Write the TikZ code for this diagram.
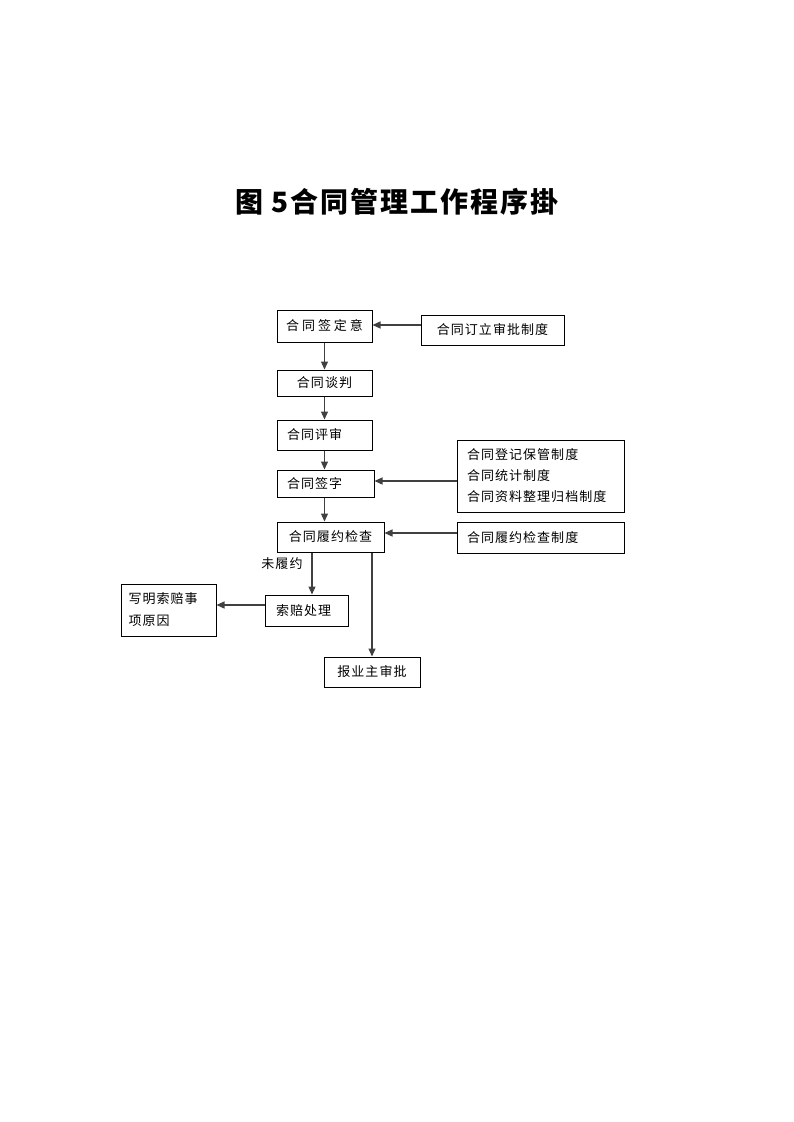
\documentclass[tikz,border=0pt]{standalone}
\usepackage{fontspec}
\newfontfamily\cjk{Noto Sans CJK SC}
\newfontfamily\cjkls{Noto Sans CJK SC}[LetterSpace=8]
\usetikzlibrary{arrows.meta}
\begin{document}
\begin{tikzpicture}[x=1pt,y=-1pt,
  box/.style={draw=black, line width=1pt, inner sep=0pt, font=\cjkls\fontsize{13}{21}\selectfont},
  arr/.style={draw=black!75, line width=1.2pt, -{Triangle[length=8pt,width=7pt]}}]
\useasboundingbox (0,0) rectangle (793,1122);
\node[font=\cjk\bfseries\fontsize{28}{30}\selectfont] (title) at (397,202) {图\hspace{8pt}5\hspace{2pt}合\hspace{2pt}同\hspace{2pt}管\hspace{2pt}理\hspace{2pt}工\hspace{2pt}作\hspace{2pt}程\hspace{2pt}序\hspace{2pt}掛};

\node[box, font=\cjk\fontsize{13}{21}\selectfont, minimum width=95pt, minimum height=32pt] (a) at (324.5,326) {合 同 签 定 意};
\node[box, minimum width=143pt, minimum height=30pt] (r1) at (492.5,330) {合同订立审批制度};
\node[box, minimum width=95pt, minimum height=26pt] (b) at (324.5,383) {合同谈判};
\node[box, minimum width=95pt, minimum height=30pt, text width=75pt, align=left] (c) at (324.5,435) {合同评审};
\node[box, minimum width=97pt, minimum height=27pt, text width=77pt, align=left] (d) at (325.5,483.5) {合同签字};
\node[box, minimum width=167pt, minimum height=72pt, align=left, text width=147pt] (r2) at (540.5,476) {合同登记保管制度\\合同统计制度\\合同资料整理归档制度};
\node[box, minimum width=107pt, minimum height=30pt] (e) at (330.5,537) {合同履约检查};
\node[box, minimum width=167pt, minimum height=31pt, text width=147pt, align=left] (r3) at (540.5,537.5) {合同履约检查制度};
\node[box, minimum width=83pt, minimum height=31pt, text width=61pt, align=left] (f) at (306.5,610.5) {索赔处理};
\node[box, font=\cjkls\fontsize{13}{22}\selectfont, minimum width=95pt, minimum height=52pt, align=left, text width=80pt] (g) at (168.5,610) {写明索赔事\\项原因};
\node[box, minimum width=96pt, minimum height=30pt] (h) at (372,672) {报业主审批};
\node[font=\cjkls\fontsize{13}{15}\selectfont] (lbl) at (282,564) {未履约};

\draw[arr] (a.south) -- (b.north);
\draw[arr] (b.south) -- (c.north);
\draw[arr] (c.south) -- (d.north -| c.south);
\draw[arr] (d.south -| c.south) -- (e.north -| c.south);
\draw[arr] (r1.west |- 0,325) -- (a.east |- 0,325);
\draw[arr] (r2.west |- 0,481) -- (d.east |- 0,481);
\draw[arr] (r3.west |- 0,533) -- (e.east |- 0,533);
\draw[arr] (e.south -| 312,0) -- (f.north -| 312,0);
\draw[arr] (e.south -| 372,0) -- (h.north);
\draw[arr] (f.west |- 0,605) -- (g.east |- 0,605);
\end{tikzpicture}
\end{document}
